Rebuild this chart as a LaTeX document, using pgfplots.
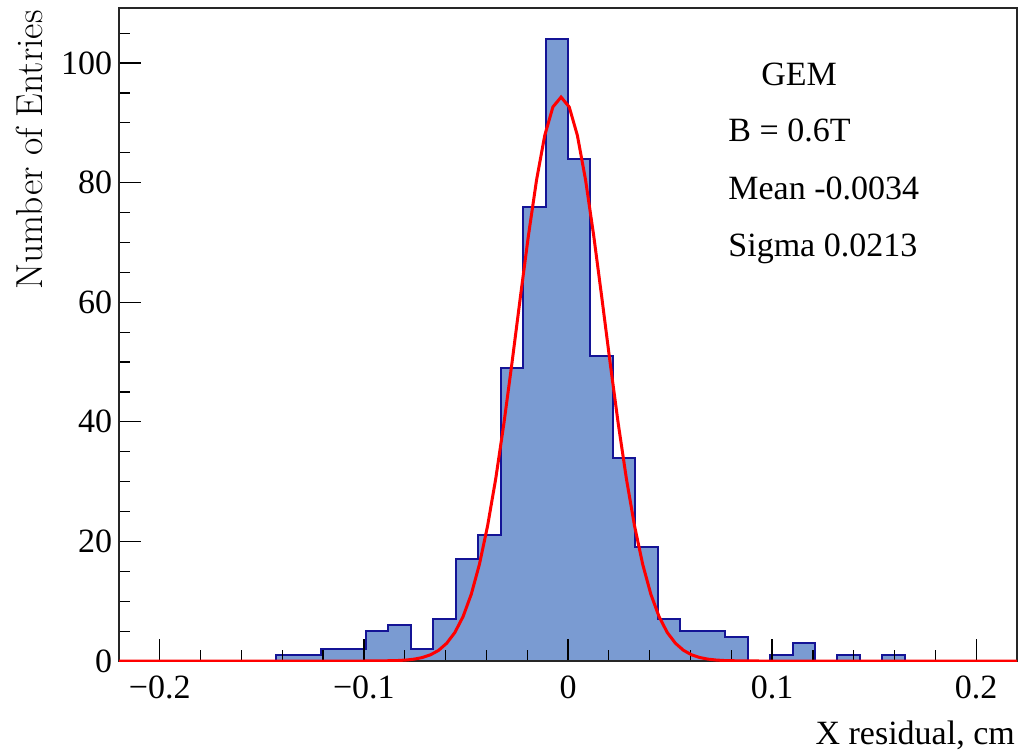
\documentclass[border=0pt]{standalone}
\usepackage{fontspec}
\usepackage{pgfplots}
\pgfplotsset{compat=1.18}
\newfontfamily\tnr{Liberation Serif}
\newcommand\tf{\tnr\fontsize{17}{20.4}\selectfont}
\definecolor{histfill}{RGB}{122,155,210}
\definecolor{histline}{RGB}{20,20,150}
\pgfplotsset{frame/.style={scale only axis, width=449pt, height=326.5pt,
    xmin=-0.22, xmax=0.22, ymin=0, ymax=109.2}}
\begin{document}
\begin{tikzpicture}
\useasboundingbox (-59.5pt,-45pt) rectangle (457pt,330.5pt);
\begin{axis}[
    frame, axis on top,
    axis line style={black!85, line width=0.9pt},
    tick align=inside, xtick pos=bottom, ytick pos=left,
    major tick length=11pt, minor tick length=5.5pt,
    tick style={black, line width=0.6pt},
    xtick={-0.2,-0.1,0,0.1,0.2},
    xticklabels={−0.2,−0.1,0,0.1,0.2},
    minor xtick={-0.18,-0.16,-0.14,-0.12,-0.08,-0.06,-0.04,-0.02,0.02,0.04,0.06,0.08,0.12,0.14,0.16,0.18},
    ytick={0,20,...,100},
    minor ytick={0,5,...,105},
    /pgf/number format/assume math mode=true,
    ticklabel style={font=\tf},
    xticklabel style={inner sep=0pt, yshift=-7pt},
    yticklabel style={inner sep=0pt, xshift=-3.2pt},
    xlabel={X residual, cm},
    xlabel style={font=\tf, inner sep=0pt, at={(axis description cs:0.998,-0.1286)}, anchor=base east},
    ylabel={Number of Entries},
    ylabel style={font=\fontsize{18.8}{22}\selectfont, inner sep=0pt, at={(axis description cs:-0.0857,0.997)}, anchor=base east},
]
% histogram, 40 bins of 0.011 from -0.22 to 0.22
\addplot[const plot, fill=histfill, draw=histline, line width=1pt] coordinates {
(-0.220,0) (-0.209,0) (-0.198,0) (-0.187,0) (-0.176,0) (-0.165,0) (-0.154,0)
(-0.143,1) (-0.132,1) (-0.121,2) (-0.110,2) (-0.099,5) (-0.088,6) (-0.077,2)
(-0.066,7) (-0.055,17) (-0.044,21) (-0.033,49) (-0.022,76) (-0.011,104)
(0.000,84) (0.011,51) (0.022,34) (0.033,19) (0.044,7) (0.055,5) (0.066,5)
(0.077,4) (0.088,0) (0.099,1) (0.110,3) (0.121,0) (0.132,1) (0.143,0)
(0.154,1) (0.165,0) (0.176,0) (0.187,0) (0.198,0) (0.209,0) (0.220,0)
} \closedcycle;
\node[font=\tf, inner sep=0pt, anchor=base] at (axis cs:0.1132,96.3) {GEM};
\node[font=\tf, inner sep=0pt, anchor=base west] at (axis cs:0.0784,86.8) {B = 0.6T};
\node[font=\tf, inner sep=0pt, anchor=base west] at (axis cs:0.0784,77.2) {Mean -0.0034};
\node[font=\tf, inner sep=0pt, anchor=base west] at (axis cs:0.0784,67.7) {Sigma 0.0213};
\end{axis}
% gaussian fit drawn over the frame
\begin{axis}[frame, hide axis]
\addplot[red, line width=1.5pt] coordinates {
(-0.2200,0) (-0.1000,0) (-0.0914,0.02) (-0.0834,0.08) (-0.0794,0.16)
(-0.0754,0.31) (-0.0714,0.58) (-0.0674,1.03) (-0.0634,1.78) (-0.0594,2.98)
(-0.0554,4.79) (-0.0514,7.44) (-0.0474,11.16) (-0.0434,16.17) (-0.0394,22.60)
(-0.0354,30.51) (-0.0314,39.74) (-0.0274,49.98) (-0.0234,60.69) (-0.0194,71.12)
(-0.0154,80.46) (-0.0114,87.88) (-0.0074,92.65) (-0.0034,94.30) (0.0006,92.65)
(0.0046,87.88) (0.0086,80.46) (0.0126,71.12) (0.0166,60.69) (0.0206,49.98)
(0.0246,39.74) (0.0286,30.51) (0.0326,22.60) (0.0366,16.17) (0.0406,11.16)
(0.0446,7.44) (0.0486,4.79) (0.0526,2.98) (0.0566,1.78) (0.0606,1.03)
(0.0646,0.58) (0.0686,0.31) (0.0726,0.16) (0.0766,0.08) (0.0846,0.02)
(0.0940,0) (0.2200,0)
};
\end{axis}
\end{tikzpicture}
\end{document}
